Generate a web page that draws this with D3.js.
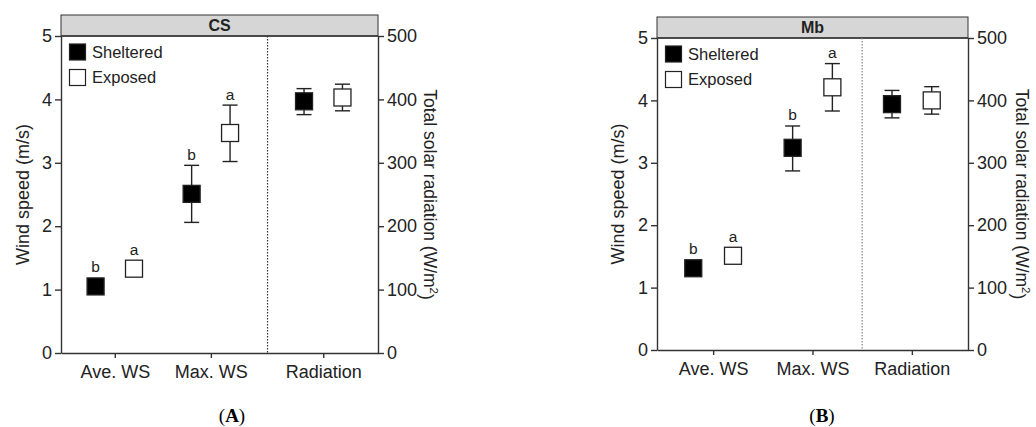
<!DOCTYPE html>
<html>
<head>
<meta charset="utf-8">
<script src="https://cdn.jsdelivr.net/npm/d3@7"></script>
<style>
  body { margin: 0; background: #fff; }
  svg { display: block; font-family: "Liberation Sans", Arial, sans-serif; }
</style>
</head>
<body>
<svg id="chart" width="1036" height="427"></svg>
<script>
// categories / groups
const categories = ['Ave. WS', 'Max. WS', 'Radiation'];
const groups = ['Sheltered', 'Exposed'];
const panelTitles = ['CS', 'Mb'];
const panelCaptions = ['A', 'B'];
const windTicks = [0, 1, 2, 3, 4, 5];
const radTicks = [0, 100, 200, 300, 400, 500];

// CS panel (wind in m/s, radiation in W/m2)
const csShelteredMean = [1.05, 2.51, 397];
const csShelteredLow  = [1.00, 2.06, 376];
const csShelteredHigh = [1.10, 2.96, 417];
const csExposedMean   = [1.33, 3.47, 403];
const csExposedLow    = [1.28, 3.02, 382];
const csExposedHigh   = [1.38, 3.91, 424];
const csShelteredLetters = ['b', 'b', ''];
const csExposedLetters   = ['a', 'a', ''];

// Mb panel
const mbShelteredMean = [1.31, 3.24, 394];
const mbShelteredLow  = [1.26, 2.87, 372];
const mbShelteredHigh = [1.36, 3.59, 416];
const mbExposedMean   = [1.51, 4.21, 400];
const mbExposedLow    = [1.46, 3.83, 378];
const mbExposedHigh   = [1.56, 4.59, 422];
const mbShelteredLetters = ['b', 'b', ''];
const mbExposedLetters   = ['a', 'a', ''];

function series(mean, low, high, letters) {
  return categories.map((c, i) => ({cat: c, i: i, mean: mean[i], low: low[i], high: high[i], letter: letters[i]}));
}

const panels = [
  {
    title: panelTitles[0], caption: panelCaptions[0],
    left: 61, right: 378, top: 36, bottom: 353, headTop: 15,
    xDomain: [0.44, 3.74], catX: [1, 2, 3.17], divider: 2.59, dividerColor: '#333',
    leftTitleX: 23, rightTitleX: 430, captionX: 232,
    data: [series(csShelteredMean, csShelteredLow, csShelteredHigh, csShelteredLetters),
           series(csExposedMean, csExposedLow, csExposedHigh, csExposedLetters)]
  },
  {
    title: panelTitles[1], caption: panelCaptions[1],
    left: 657, right: 968, top: 38, bottom: 350, headTop: 17,
    xDomain: [0.435, 3.565], catX: [1, 2, 3], divider: 2.5, dividerColor: '#888',
    leftTitleX: 618, rightTitleX: 1022, captionX: 822,
    data: [series(mbShelteredMean, mbShelteredLow, mbShelteredHigh, mbShelteredLetters),
           series(mbExposedMean, mbExposedLow, mbExposedHigh, mbExposedLetters)]
  }
];

const svg = d3.select('#chart');
const ink = '#222';
const axisCol = '#333';
const offset = 0.2;
const half = 8.5;

panels.forEach(p => {
  const g = svg.append('g');
  const x = d3.scaleLinear().domain(p.xDomain).range([p.left, p.right]);
  const yL = d3.scaleLinear().domain([0, 5]).range([p.bottom, p.top]);
  const yR = d3.scaleLinear().domain([0, 500]).range([p.bottom, p.top]);
  const yFor = d => d.i === 2 ? yR : yL;

  // header strip
  g.append('rect').attr('x', p.left).attr('y', p.headTop)
    .attr('width', p.right - p.left).attr('height', p.top - p.headTop)
    .attr('fill', '#d6d6d6').attr('stroke', axisCol).attr('stroke-width', 1);
  g.append('line').attr('x1', p.left).attr('x2', p.right).attr('y1', p.top).attr('y2', p.top)
    .attr('stroke', axisCol).attr('stroke-width', 1.6);
  g.append('text').attr('x', (p.left + p.right) / 2).attr('y', (p.headTop + p.top) / 2 + 5.5)
    .attr('text-anchor', 'middle').attr('font-weight', 'bold').attr('font-size', 16)
    .attr('fill', ink).text(p.title);

  // divider
  g.append('line').attr('x1', x(p.divider)).attr('x2', x(p.divider))
    .attr('y1', p.top).attr('y2', p.bottom)
    .attr('stroke', p.dividerColor).attr('stroke-width', 1.2).attr('stroke-dasharray', '1.5,1.5');

  // axes
  const styleAxis = sel => {
    sel.selectAll('path, line').attr('stroke', axisCol).attr('stroke-width', 1.4);
    sel.selectAll('text').attr('fill', ink).attr('font-size', 18)
      .attr('font-family', '"Liberation Sans", Arial, sans-serif');
  };
  g.append('g').attr('transform', `translate(${p.left},0)`)
    .call(d3.axisLeft(yL).tickValues(windTicks).tickSize(6).tickPadding(3).tickSizeOuter(0).tickFormat(d3.format('d')))
    .call(styleAxis);
  g.append('g').attr('transform', `translate(${p.right},0)`)
    .call(d3.axisRight(yR).tickValues(radTicks).tickSize(6).tickPadding(3).tickSizeOuter(0).tickFormat(d3.format('d')))
    .call(styleAxis);
  g.append('g').attr('transform', `translate(0,${p.bottom})`)
    .call(d3.axisBottom(x).tickValues(p.catX).tickSize(5).tickPadding(7).tickSizeOuter(0)
      .tickFormat((d, i) => categories[i]))
    .call(styleAxis);

  // axis titles
  g.append('text').attr('transform', `translate(${p.leftTitleX},${(p.top + p.bottom) / 2}) rotate(-90)`)
    .attr('dy', '0.35em').attr('text-anchor', 'middle').attr('font-size', 18).attr('fill', ink)
    .text('Wind speed (m/s)');
  const rt = g.append('text').attr('transform', `translate(${p.rightTitleX},${(p.top + p.bottom) / 2}) rotate(90)`)
    .attr('dy', '0.35em').attr('text-anchor', 'middle').attr('font-size', 17.5).attr('fill', ink);
  rt.append('tspan').text('Total solar radiation (W/m');
  rt.append('tspan').attr('font-size', 11.5).attr('dy', '-0.55em').text('2');
  rt.append('tspan').attr('dy', '0.55em').text(')');

  // points
  p.data.forEach((s, gi) => {
    const dx = gi === 0 ? -offset : offset;
    const cx = d => x(p.catX[d.i] + dx);
    const sg = g.append('g');
    sg.selectAll('line.err').data(s).join('line').attr('class', 'err')
      .attr('x1', cx).attr('x2', cx)
      .attr('y1', d => yFor(d)(d.low)).attr('y2', d => yFor(d)(d.high))
      .attr('stroke', ink).attr('stroke-width', 1.4);
    ['low', 'high'].forEach(k => {
      sg.selectAll('line.cap-' + k).data(s).join('line').attr('class', 'cap-' + k)
        .attr('x1', d => cx(d) - 7.5).attr('x2', d => cx(d) + 7.5)
        .attr('y1', d => yFor(d)(d[k])).attr('y2', d => yFor(d)(d[k]))
        .attr('stroke', ink).attr('stroke-width', 1.4);
    });
    sg.selectAll('rect').data(s).join('rect')
      .attr('x', d => cx(d) - half).attr('y', d => yFor(d)(d.mean) - half)
      .attr('width', half * 2).attr('height', half * 2)
      .attr('fill', gi === 0 ? '#000' : '#fff').attr('stroke', ink).attr('stroke-width', 1.3);
    sg.selectAll('text').data(s.filter(d => d.letter)).join('text')
      .attr('x', cx)
      .attr('y', d => Math.min(yFor(d)(d.high), yFor(d)(d.mean) - half) - 5.5)
      .attr('text-anchor', 'middle').attr('font-size', 15.5).attr('fill', ink)
      .text(d => d.letter);
  });

  // legend
  groups.forEach((name, gi) => {
    const ly = p.top + 16 + gi * 25.5;
    g.append('rect').attr('x', p.left + 8.5).attr('y', ly - 8).attr('width', 16).attr('height', 16)
      .attr('fill', gi === 0 ? '#000' : '#fff').attr('stroke', ink).attr('stroke-width', 1.2);
    g.append('text').attr('x', p.left + 31).attr('y', ly).attr('dy', '0.35em')
      .attr('font-size', 16.5).attr('fill', ink).text(name);
  });

  // caption
  const cap = svg.append('text').attr('x', p.captionX).attr('y', 422)
    .attr('text-anchor', 'middle').attr('font-family', '"Liberation Serif", "Times New Roman", serif')
    .attr('font-size', 19).attr('fill', '#000');
  cap.append('tspan').text('(');
  cap.append('tspan').attr('font-weight', 'bold').text(p.caption);
  cap.append('tspan').text(')');
});
</script>
</body>
</html>
